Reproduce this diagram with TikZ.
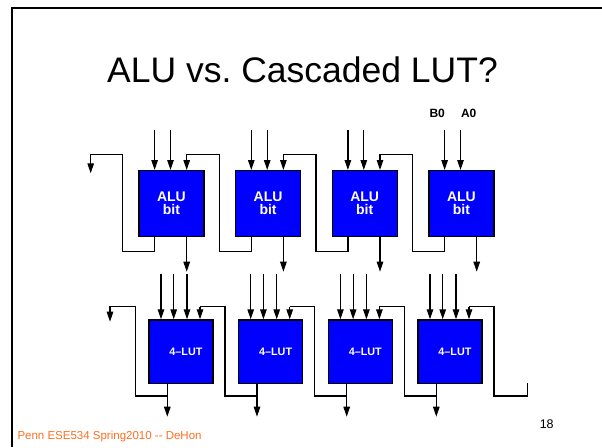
\documentclass[tikz,border=0pt]{standalone}
\usepackage{fontspec}
\setmainfont{Liberation Sans}
\usetikzlibrary{arrows.meta,calc}
\definecolor{boxblue}{RGB}{0,0,255}
\definecolor{footorange}{RGB}{255,110,30}
\begin{document}
\frenchspacing
\begin{tikzpicture}[x=1pt,y=-1pt,
  wire/.style={line width=1.2pt,black},
  arr/.style={wire,-{Triangle[length=10pt,width=6.5pt]}},
  alubox/.style={draw=black,line width=1.2pt,fill=boxblue,minimum width=65pt,minimum height=65.7pt,inner sep=0pt,anchor=north west,text=white,align=center,font=\bfseries\fontsize{14}{13.4}\selectfont},
  lutbox/.style={draw=black,line width=1.2pt,fill=boxblue,minimum width=64pt,minimum height=63.7pt,inner sep=0pt,anchor=north west,text=white,font=\bfseries\fontsize{10.8}{12}\selectfont},
  lbl/.style={inner sep=0pt,anchor=base,font=\bfseries\fontsize{12}{12}\selectfont}]
\useasboundingbox (0,0) rectangle (602,447);
% slide frame
\draw[line width=2.3pt] (12.3,447) -- (12.3,8) -- (602,8);
% title
\node[inner sep=0pt,anchor=base,font=\fontsize{35.5}{40}\selectfont] (title) at (302.5,82.3) {ALU vs. Cascaded LUT?};
% ALU row
\foreach \i/\x in {1/138.3,2/235,3/331.6,4/428.3} {
  \node[alubox] (alu\i) at (\x,170) {ALU\\bit};
  \coordinate (alu\i-a) at (\x+16.3,130);
  \coordinate (alu\i-b) at (\x+32.2,130);
  \coordinate (alu\i-o) at (\x+48.4,271.7);
  \coordinate (alu\i-r) at (\x+81,251.7);
  \draw[arr] (alu\i-a) -- (alu\i-a |- alu\i.north);
  \draw[arr] (alu\i-b) -- (alu\i-b |- alu\i.north);
  \draw[arr] (alu\i-o |- alu\i.south) -- (alu\i-o);
}
\node[lbl] (b0) at (437.2,117.3) {B0};
\node[lbl] (a0) at (468.7,117.3) {A0};
% carry chain
\foreach \i/\j in {1/2,2/3,3/4} {
  \draw[arr] (alu\j-a |- alu\j.south) |- (alu\i-r) |- ($(alu\i-o |- 0,154.5)$) -- (alu\i-o |- alu\i.north);
}
\coordinate (cl) at (122.3,251.7);
\coordinate (cout) at (90.7,173.3);
\draw[arr] (alu1-a |- alu1.south) |- (cl) |- (cout |- 0,154.5) -- (cout);
% LUT row
\foreach \i/\x in {1/148.3,2/238,3/327.7,4/417.3} {
  \node[lutbox] (lut\i) at (\x,319.3) {\hspace*{10pt}4–LUT};
  \coordinate (lut\i-a) at (\x+12.7,274);
  \coordinate (lut\i-b) at (\x+25.4,274);
  \coordinate (lut\i-c) at (\x+38.7,274);
  \coordinate (lut\i-d) at (\x+51.7,306.7);
  \coordinate (lut\i-o) at (\x+19,416.7);
  \coordinate (lut\i-r) at (\x+76.7,396);
  \draw[arr] (lut\i-a) -- (lut\i-a |- lut\i.north);
  \draw[arr] (lut\i-b) -- (lut\i-b |- lut\i.north);
  \draw[arr] (lut\i-c) -- (lut\i-c |- lut\i.north);
  \draw[arr] (lut\i-o |- lut\i.south) -- (lut\i-o);
}
\foreach \i/\j in {1/2,2/3,3/4} {
  \draw[wire] (lut\j-o |- 0,396) -- (lut\i-r) |- (lut\i-d);
  \draw[arr] (lut\i-d) -- (lut\i-d |- lut\i.north);
}
\coordinate (lend) at (527.3,383.3);
\draw[wire] (lend) |- (lut4-r) |- (lut4-d);
\draw[arr] (lut4-d) -- (lut4-d |- lut4.north);
\coordinate (ll) at (135.7,396);
\coordinate (lout) at (110,321.7);
\draw[arr] (lut1-o |- 0,396) -- (ll) |- (lout |- 0,306.7) -- (lout);
% footer and page number
\node[inner sep=0pt,anchor=base west,text=footorange,font=\fontsize{11.5}{12}\selectfont] (foot) at (17.3,439.3) {Penn ESE534 Spring2010 -{}- DeHon};
\node[inner sep=0pt,anchor=base,font=\fontsize{12.5}{14}\selectfont] (pnum) at (546.7,428) {18};
\end{tikzpicture}
\end{document}
